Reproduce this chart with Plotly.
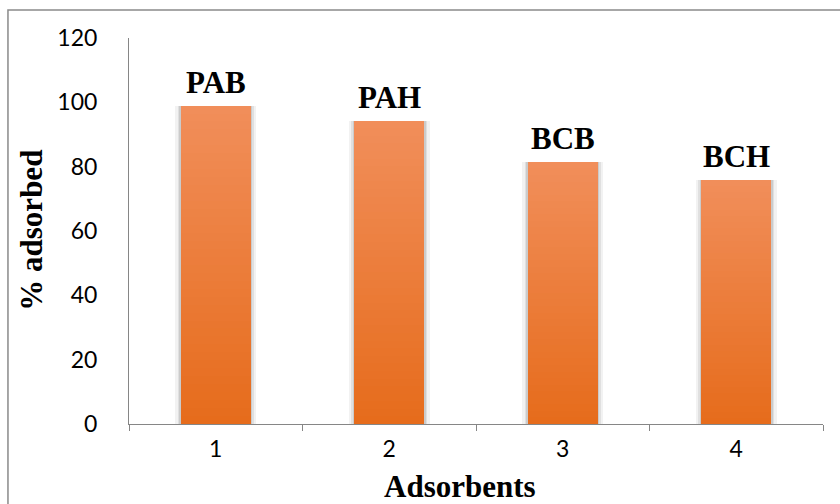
import plotly.graph_objects as go

# Adsorption efficiency of the four adsorbents
categories = ["1", "2", "3", "4"]
adsorbent_names = ["PAB", "PAH", "BCB", "BCH"]
percent_adsorbed = [99.0, 94.3, 81.5, 76.0]
y_ticks = [0, 20, 40, 60, 80, 100, 120]

BAR_WIDTH = 0.405
TOP_RGB = (241, 142, 90)
BOTTOM_RGB = (230, 108, 28)
N_STEPS = 40

fig = go.Figure()

# soft drop shadow behind each bar
for extra, alpha in [(0.06, 0.05), (0.035, 0.07), (0.015, 0.09)]:
    fig.add_trace(go.Bar(
        x=categories, y=percent_adsorbed, width=BAR_WIDTH + extra,
        marker=dict(color=f"rgba(0,0,0,{alpha})", line=dict(width=0)),
        hoverinfo="skip", showlegend=False,
    ))

# vertical gradient: progressively shorter, darker overlays
for k in range(N_STEPS):
    t = k / (N_STEPS - 1)
    r, g, b = (round(TOP_RGB[i] + (BOTTOM_RGB[i] - TOP_RGB[i]) * t) for i in range(3))
    frac = 1 - k / N_STEPS
    fig.add_trace(go.Bar(
        x=categories, y=[v * frac for v in percent_adsorbed], width=BAR_WIDTH,
        marker=dict(color=f"rgb({r},{g},{b})", line=dict(width=0)),
        hoverinfo="skip", showlegend=False,
    ))

# adsorbent name above each bar (category index as x position)
for idx, (name, val) in enumerate(zip(adsorbent_names, percent_adsorbed)):
    fig.add_annotation(
        x=idx, y=val, text=f"<b>{name}</b>", showarrow=False,
        xanchor="center", yanchor="bottom", yshift=4,
        font=dict(family="Liberation Serif", size=31, color="black"),
    )

# axis titles
fig.add_annotation(
    xref="paper", yref="paper", x=0.477, y=-0.163, text="<b>Adsorbents</b>",
    showarrow=False, xanchor="center", yanchor="middle",
    font=dict(family="Liberation Serif", size=31, color="black"),
)
fig.add_annotation(
    xref="paper", yref="paper", x=-0.14, y=0.503, text="<b>% adsorbed</b>",
    showarrow=False, textangle=-90, xanchor="center", yanchor="middle",
    font=dict(family="Liberation Serif", size=31, color="black"),
)

# chart-area border
fig.add_shape(
    type="rect", xref="paper", yref="paper",
    x0=-0.1744, y0=-0.24, x1=1.1, y1=1.0725,
    line=dict(color="#8a8a8a", width=1.5), fillcolor="rgba(0,0,0,0)", layer="below",
)

fig.update_layout(
    width=840, height=504,
    margin=dict(l=129, r=17, t=38, b=80),
    paper_bgcolor="white", plot_bgcolor="white",
    barmode="overlay", bargap=0,
    showlegend=False,
    font=dict(family="Lato", size=23, color="black"),
)
fig.update_xaxes(
    type="category", range=[-0.5, 3.5],
    showline=True, linecolor="#868686", linewidth=1,
    ticks="outside", tickson="boundaries", ticklen=6, tickcolor="#868686",
    ticklabelstandoff=4,
    showgrid=False, zeroline=False,
    tickfont=dict(family="Lato", size=23, color="black"),
)
fig.update_yaxes(
    range=[0, 120], tickvals=y_ticks,
    showline=True, linecolor="#868686", linewidth=1,
    ticks="", ticklabelstandoff=26,
    showgrid=False, zeroline=False,
    tickfont=dict(family="Lato", size=23, color="black"),
)

fig.write_html("out.html")
